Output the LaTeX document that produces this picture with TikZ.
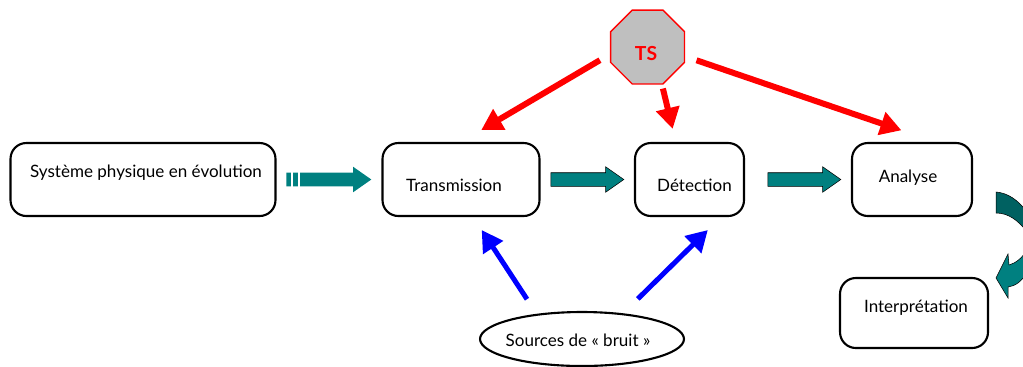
\documentclass[tikz,border=0pt]{standalone}
\usepackage{fontspec}
\setmainfont{Lato}
\usetikzlibrary{positioning}
\usetikzlibrary{shapes.geometric}
\usetikzlibrary{shapes.arrows}
\usetikzlibrary{arrows.meta}
\definecolor{mteal}{rgb}{0, 0.5, 0.5}
\definecolor{mdark}{rgb}{0, 0.38, 0.38}
\definecolor{mgrey}{rgb}{0.75, 0.75, 0.75}
\tikzset{block/.style = {draw, rounded corners=9pt, line width=1.2pt, inner sep=0pt, minimum height=1.46cm},
         label/.style = {font=\fontsize{9.7}{12}\selectfont},
         tealarrow/.style = {single arrow, fill=mteal, draw=black, line width=0.3pt, inner sep=0pt, outer sep=0pt,
                             text height=0.26cm, text depth=0pt, text width=0pt,
                             minimum height=1.46cm, single arrow head extend=0.12cm,
                             single arrow tip angle=70, single arrow head indent=0pt},
         redarrow/.style = {-{Triangle[length=0.42cm, width=0.46cm]}, red, line width=0.12cm},
         bluearrow/.style = {-{Triangle[length=0.42cm, width=0.46cm]}, blue, line width=0.1cm}}
\begin{document}
\begin{tikzpicture}[x=0.02cm, y=-0.02cm]
    \path [use as bounding box, clip] (0, 0) rectangle (1023, 366);

    \node [block, minimum width=5.3cm] (sys) at (143, 179.5) {};
    \node [block, minimum width=3.14cm] (trans) at (461, 179.5) {};
    \node [block, minimum width=2.18cm] (det) at (689.5, 179.5) {};
    \node [block, minimum width=2.4cm] (ana) at (912, 179.5) {};
    \node [block, minimum width=2.96cm, minimum height=1.4cm] (interp) at (914, 313) {};
    \node [draw, ellipse, line width=1.2pt, inner sep=0pt, minimum width=4.08cm, minimum height=1.08cm] (src) at (582, 339) {};
    \node [draw=red, fill=mgrey, regular polygon, regular polygon sides=8, line width=0.8pt, inner sep=0pt, minimum size=1.6cm] (ts) at (647.5, 47) {};

    \node [label] at (146, 173) {Système physique en évolution};
    \node [label] at (454, 185) {Transmission};
    \node [label] at (694.5, 185) {Détection};
    \node [label] at (908, 178) {Analyse};
    \node [label] at (916, 308) {Interprétation};
    \node [label] at (578, 340) {Sources de « bruit »};
    \node [label, red, font=\fontsize{11}{14}\selectfont\bfseries] at (646, 54) {TS};

    \draw [redarrow, shorten <=0.23cm, shorten >=0.47cm] (ts.191) -- (trans.north);
    \draw [redarrow, shorten <=0.08cm, shorten >=0.27cm] (ts.-69.4) -- (det.110.6);
    \draw [redarrow, shorten <=0.24cm, shorten >=0.72cm] (ts.-14) -- (ana.58.6);
    \draw [bluearrow, shorten <=0.35cm, shorten >=0.31cm] (src.151) -- (trans.-72.6);
    \draw [bluearrow, shorten <=0.41cm, shorten >=0.37cm] (src.32.7) -- (det.-50);

    \node [tealarrow, draw=none, minimum height=1.7cm] (a1) at (324, 179.5) {};
    \fill [white] (291, 170) rectangle (292.5, 190);
    \fill [white] (298, 170) rectangle (300, 190);
    \node [tealarrow] (a2) at (582.5, 179.5) {};
    \node [tealarrow] (a3) at (799.5, 179.5) {};

    % curved arrow, runs off the page
    \draw [fill=mdark, line width=0.3pt] (996, 192) .. controls (1008, 193) and (1018, 200) .. (1027, 212)
      -- (1027, 232) .. controls (1018, 220) and (1008, 213) .. (996, 213) -- cycle;
    \draw [fill=mteal, line width=0.3pt] (1027, 250) .. controls (1022, 258) and (1016, 263) .. (1009, 265)
      -- (1008, 254) -- (996, 278) -- (1008, 298) -- (1008, 287) .. controls (1015, 286) and (1021, 282) .. (1027, 273) -- cycle;
\end{tikzpicture}
\end{document}
